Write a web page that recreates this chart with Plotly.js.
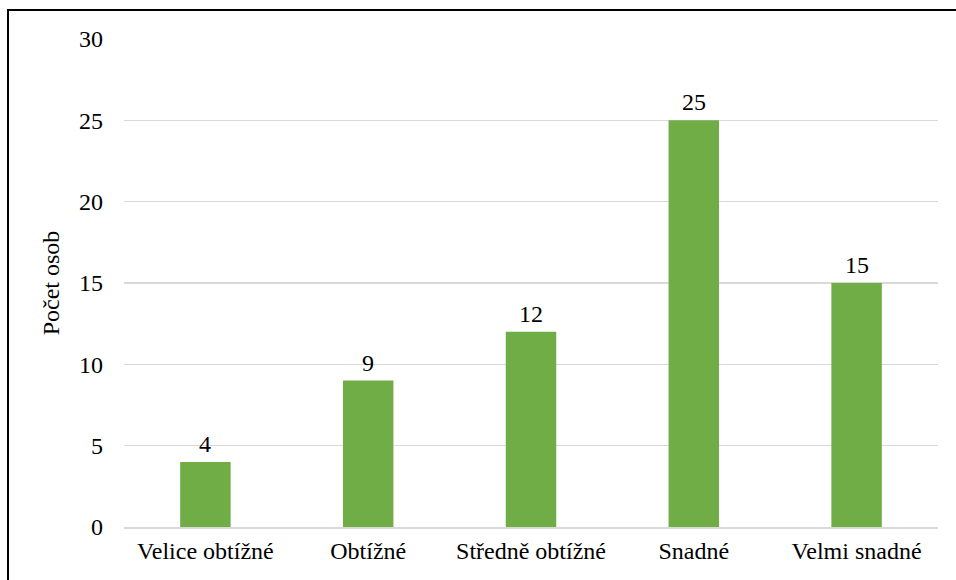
<!DOCTYPE html>
<html><head><meta charset="utf-8">
<script src="https://cdn.plot.ly/plotly-3.0.1.min.js"></script>
</head><body style="margin:0;background:#fff"><div id="wrap" style="position:relative;width:956px;height:580px"><div id="chart"></div><div style="position:absolute;left:7px;top:9px;width:2px;height:571px;background:#000"></div><div style="position:absolute;left:7px;top:9px;width:949px;height:2px;background:#000"></div></div>
<script>
const categories = ["Velice obtížné", "Obtížné", "Středně obtížné", "Snadné", "Velmi snadné"];
const counts = [4, 9, 12, 25, 15];
const yTicks = [0, 5, 10, 15, 20, 25, 30];
const serifFamily = "Times New Roman";
Plotly.newPlot('chart', [{
  type: 'bar', x: categories, y: counts,
  marker: {color: '#70ad47'},
  width: 0.31,
  hoverinfo: 'none'
}], {
  width: 956, height: 580,
  margin: {l: 124, r: 18, t: 39, b: 53},
  paper_bgcolor: '#fff', plot_bgcolor: '#fff',
  showlegend: false,
  annotations: categories.map((c, i) => ({
    x: c, y: counts[i], xref: 'x', yref: 'y', text: String(counts[i]),
    showarrow: false, yanchor: 'bottom', yshift: 3,
    font: {family: serifFamily, size: 24, color: '#000000'}
  })),
  xaxis: {showgrid: false, showline: true, linecolor: '#d9d9d9', linewidth: 1.5, ticks: '', ticklabelstandoff: 2, tickfont: {family: serifFamily, size: 24, color: '#000000'}},
  yaxis: {range: [0, 30], tickvals: yTicks, showgrid: true, gridcolor: '#d9d9d9', gridwidth: 1.5, zeroline: false, showline: false, ticks: '', ticklabelstandoff: 20,
    tickfont: {family: serifFamily, size: 24, color: '#000000'},
    title: {text: 'Počet osob', font: {family: serifFamily, size: 24, color: '#000000'}, standoff: 12}}
}, {displayModeBar: false, staticPlot: true});
</script></body></html>
